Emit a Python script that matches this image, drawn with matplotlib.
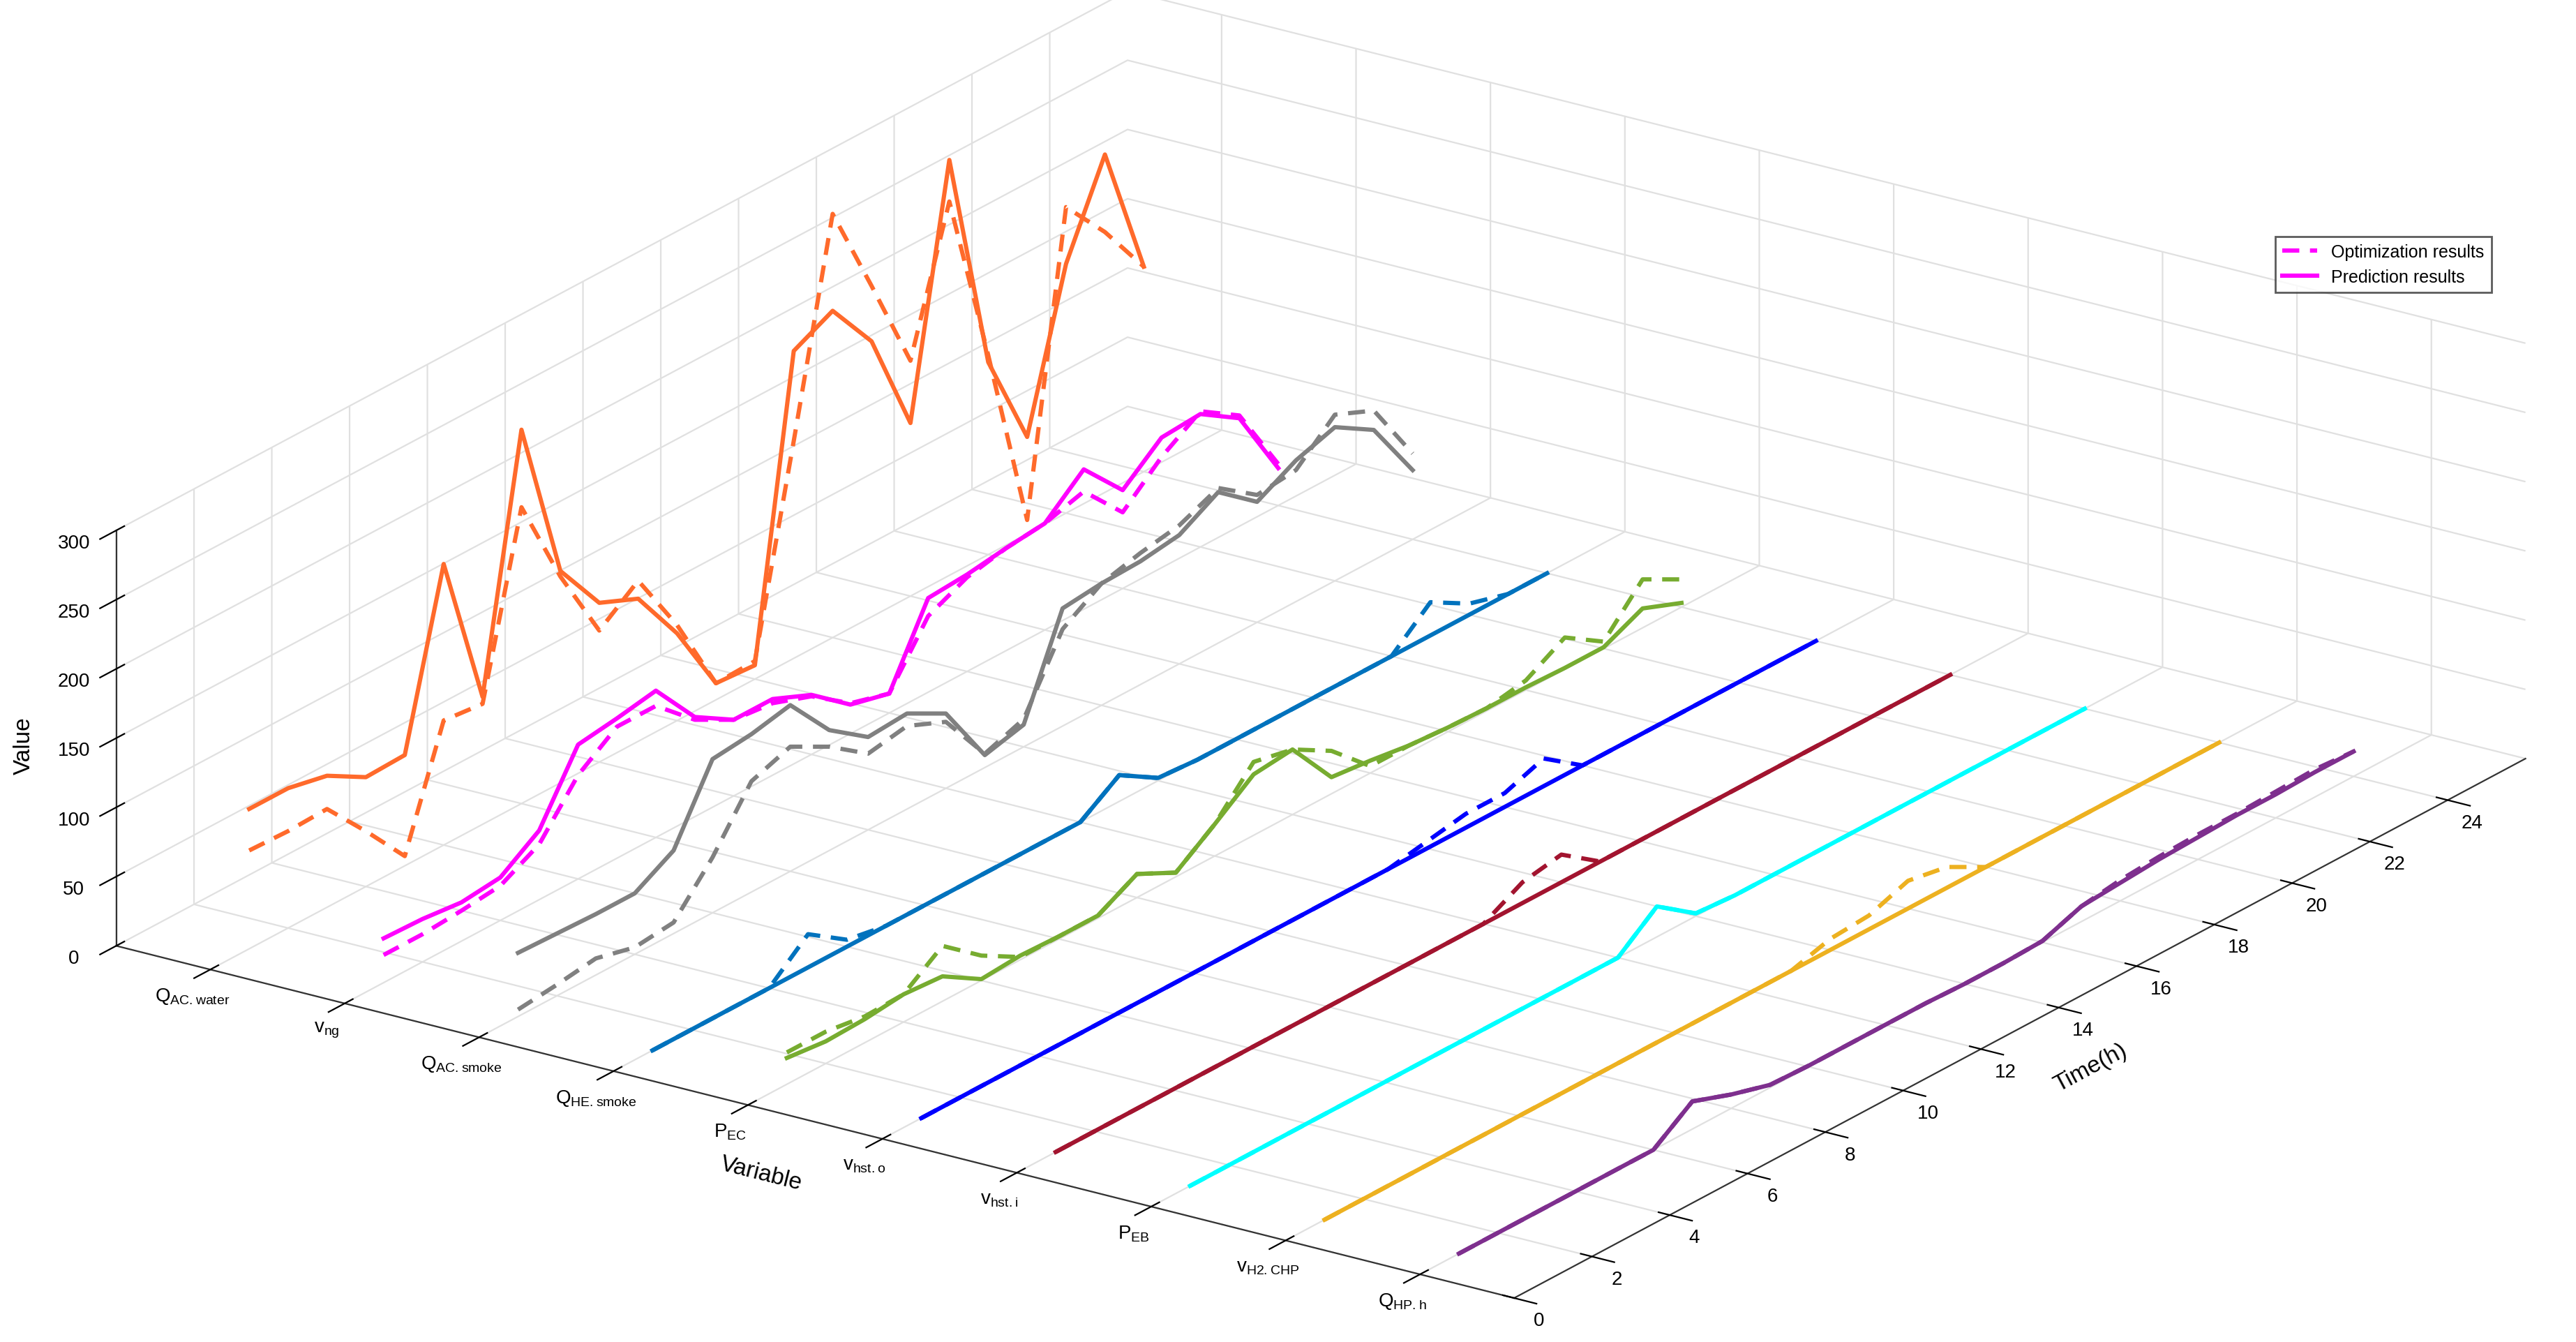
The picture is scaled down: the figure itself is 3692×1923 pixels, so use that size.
import numpy as np
import matplotlib.pyplot as plt
from matplotlib.lines import Line2D

# time steps and variable names
t = np.arange(1, 25)
names = [r'$\mathregular{Q_{AC.water}}$', r'$\mathregular{v_{ng}}$', r'$\mathregular{Q_{AC.smoke}}$',
         r'$\mathregular{Q_{HE.smoke}}$', r'$\mathregular{P_{EC}}$', r'$\mathregular{v_{hst.o}}$',
         r'$\mathregular{v_{hst.i}}$', r'$\mathregular{P_{EB}}$', r'$\mathregular{v_{H2.CHP}}$',
         r'$\mathregular{Q_{HP.h}}$']
colors = ['#FF6A2B', '#FF00FF', '#808080', '#0072BD', '#77AC30',
          '#0000FF', '#A2142F', '#00FFFF', '#EDB120', '#7E2F8E']

# prediction results (solid)
pred_acw = [101, 101, 95, 79, 80, 203, 92, 270, 153, 115, 103, 63, 12, 10, 222, 236, 199, 125, 300, 139, 70, 180, 244, 148]
pred_ng = [32, 31, 28, 31, 50, 97, 101, 106, 72, 55, 55, 43, 21, 14, 68, 70, 74, 77, 101, 71, 94, 96, 78, 27]
pred_acs = [46, 45, 44, 44, 60, 111, 114, 120, 87, 67, 69, 54, 9, 16, 85, 88, 89, 93, 109, 87, 102, 111, 94, 50]
pred_hes = [0, 0, 0, 0, 0, 0, 0, 0, 0, 0, 0, 0, 19, 2, 0, 0, 0, 0, 0, 0, 0, 0, 0, 0]
pred_ec = [19, 16, 17, 20, 18, 1, 3, 2, 2, 17, 3, 23, 44, 47, 12, 9, 5, 3, 2, 2, 1, 1, 14, 3]
pred_hsto = [0] * 24
pred_hsti = [0] * 24
pred_eb = [0, 0, 0, 0, 0, 0, 0, 0, 0, 0, 0, 0, 22, 2, 0, 0, 0, 0, 0, 0, 0, 0, 0, 0]
pred_h2 = [0] * 24
pred_hp = [0, 0, 0, 0, 0, 0, 20, 10, 2, 1, 1, 1, 1, 0, 0, 1, 11, 13, 15, 16, 17, 17, 18, 18]

# optimization results (dashed)
opt_acw = [71, 70, 71, 40, 7, 90, 87, 214, 149, 95, 116, 69, 12, 13, 157, 306, 239, 170, 270, 144, 10, 221, 188, 148]
opt_ng = [20, 20, 22, 25, 40, 75, 95, 95, 70, 55, 52, 42, 22, 14, 55, 68, 74, 77, 85, 55, 80, 98, 80, 30]
opt_acs = [5, 8, 12, 5, 8, 40, 80, 90, 75, 55, 60, 48, 10, 20, 70, 88, 95, 100, 112, 92, 95, 120, 108, 62]
opt_hes = [0, 0, 0, 0, 24, 5, 0, 0, 0, 0, 0, 0, 19, 2, 0, 0, 0, 0, 0, 0, 24, 8, 0, 0]
opt_ec = [23, 23, 19, 20, 40, 18, 2, 2, 2, 17, 3, 23, 53, 47, 31, 5, 5, 3, 2, 7, 23, 5, 35, 20]
opt_hsto = [0, 0, 0, 0, 0, 0, 0, 0, 0, 0, 0, 0, 0, 5, 10, 10, 20, 0, 0, 0, 0, 0, 0, 0]
opt_hsti = [0, 0, 0, 0, 0, 0, 0, 0, 0, 0, 0, 0, 15, 20, 0, 0, 0, 0, 0, 0, 0, 0, 0, 0]
opt_eb = pred_eb
opt_h2 = [0, 0, 0, 0, 0, 0, 0, 0, 0, 0, 0, 0, 0, 8, 10, 20, 15, 0, 0, 0, 0, 0, 0, 0]
opt_hp = [0, 0, 0, 0, 0, 0, 20, 10, 2, 1, 1, 1, 1, 0, 0, 1, 11, 15, 17, 18, 18, 19, 20, 18]

pred = [pred_acw, pred_ng, pred_acs, pred_hes, pred_ec, pred_hsto, pred_hsti, pred_eb, pred_h2, pred_hp]
opt = [opt_acw, opt_ng, opt_acs, opt_hes, opt_ec, opt_hsto, opt_hsti, opt_eb, opt_h2, opt_hp]

plt.rcParams['font.family'] = ['Liberation Sans', 'DejaVu Sans']
fig = plt.figure(figsize=(18.46, 9.62), dpi=200)
ax = fig.add_axes([-0.22, -0.41, 1.44, 1.81], projection='3d')
ax.set_proj_type('ortho')

for i in range(10):
    xs = np.full(len(t), i + 1)
    ax.plot(xs, t, opt[i], color=colors[i], lw=2.2, ls=(0, (4, 2.5)))
    ax.plot(xs, t, pred[i], color=colors[i], lw=2.2)

ax.set_xlim(0.3, 10.7)
ax.set_ylim(0, 26)
ax.set_zlim(0, 300)
ax.set_xticks(np.arange(1, 11))
ax.set_xticklabels(names, fontsize=10)
ax.set_yticks(np.arange(0, 25, 2))
ax.set_zticks(np.arange(0, 301, 50))
ax.tick_params(labelsize=10)
ax.zaxis.set_ticks_position('lower')
ax.zaxis.set_label_position('lower')
ax.set_xlabel('Variable', fontsize=12, labelpad=14)
ax.set_ylabel('Time(h)', fontsize=12, labelpad=12)
ax.set_zlabel('Value', fontsize=12)
ax.set_box_aspect((1.9, 2.0, 0.5))
ax.view_init(elev=21.5, azim=-55.5)

for axis in (ax.xaxis, ax.yaxis, ax.zaxis):
    axis.set_pane_color((1, 1, 1, 0))
    axis._axinfo['grid']['color'] = (0.88, 0.88, 0.88, 1)
    axis._axinfo['grid']['linewidth'] = 0.8
    axis.line.set_color('#333333')

handles = [Line2D([], [], color='#FF00FF', lw=2.2, ls=(0, (4, 2.5))),
           Line2D([], [], color='#FF00FF', lw=2.2)]
fig.legend(handles, ['Optimization results', 'Prediction results'],
           loc='upper left', bbox_to_anchor=(0.88, 0.83), fontsize=9,
           frameon=True, edgecolor='#333333', fancybox=False)

fig.savefig('out.png', dpi=200)
